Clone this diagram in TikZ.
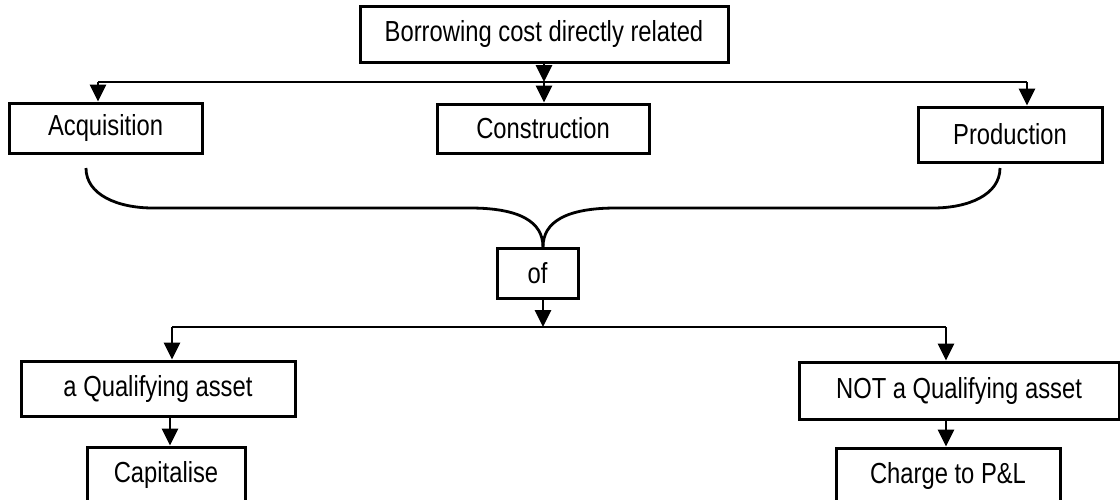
\documentclass[tikz,border=0pt]{standalone}
\usepackage{fontspec}
\setmainfont[FakeStretch=0.82]{Liberation Sans}
\usetikzlibrary{arrows.meta}
\begin{document}
\begin{tikzpicture}[x=1pt,y=-1pt,
  box/.style={draw,line width=3pt,inner sep=0pt,font=\fontsize{29}{32}\selectfont},
  conn/.style={line width=2.8pt},
  arr/.style={conn,-{Triangle[width=16pt,length=17pt]}}]
\useasboundingbox (0,0) rectangle (1120,499);
\node[box,minimum width=368pt,minimum height=56pt] (top) at (544,34) {Borrowing cost directly related};
\node[box,minimum width=193pt,minimum height=50pt] (acq) at (105.5,128) {Acquisition};
\node[box,minimum width=212pt,minimum height=49pt] (con) at (543,128.5) {Construction};
\node[box,minimum width=184pt,minimum height=55pt] (prod) at (1010,134.5) {Production};
\node[box,minimum width=81pt,minimum height=50pt] (of) at (537.5,273) {of};
\node[box,minimum width=274pt,minimum height=55pt] (qa) at (158,388.5) {a Qualifying asset};
\node[box,minimum width=158pt,minimum height=56pt] (cap) at (166,475) {Capitalise};
\node[box,minimum width=320pt,minimum height=57pt] (nqa) at (959,390.5) {NOT a Qualifying asset};
\node[box,minimum width=224pt,minimum height=56pt] (chg) at (948,476) {Charge to P\&L};
% top bus
\coordinate (b1) at (544,82);
\coordinate (b1L) at (98,82);
\coordinate (b1R) at (1027,82);
\draw[arr] (top.south -| b1) -- (b1);
\draw[conn] (b1L) -- (b1R);
\draw[arr] (b1L) -- (b1L |- acq.north);
\draw[arr] (b1) -- (b1 |- con.north);
\draw[arr] (b1R) -- (b1R |- prod.north);
% brace
\coordinate (tip) at (543,247);
\coordinate (lS) at (86,168);
\coordinate (rS) at (1000,168);
\draw[conn] (lS) .. controls (86,195) and (118,208) .. (153,208) -- (470,208)
  .. controls (520,208) and (543,222) .. (tip);
\draw[conn] (rS) .. controls (1000,195) and (968,208) .. (933,208) -- (616,208)
  .. controls (566,208) and (543,222) .. (tip);
% bottom bus
\coordinate (b2) at (543,327);
\coordinate (b2L) at (172,327);
\coordinate (b2R) at (946,327);
\draw[arr] (of.south -| b2) -- (b2);
\draw[conn] (b2L) -- (b2R);
\draw[arr] (b2L) -- (b2L |- qa.north);
\draw[arr] (b2R) -- (b2R |- nqa.north);
\coordinate (q1) at (170,416);
\draw[arr] (qa.south -| q1) -- (q1 |- cap.north);
\draw[arr] (nqa.south -| b2R) -- (b2R |- chg.north);
\end{tikzpicture}
\end{document}
